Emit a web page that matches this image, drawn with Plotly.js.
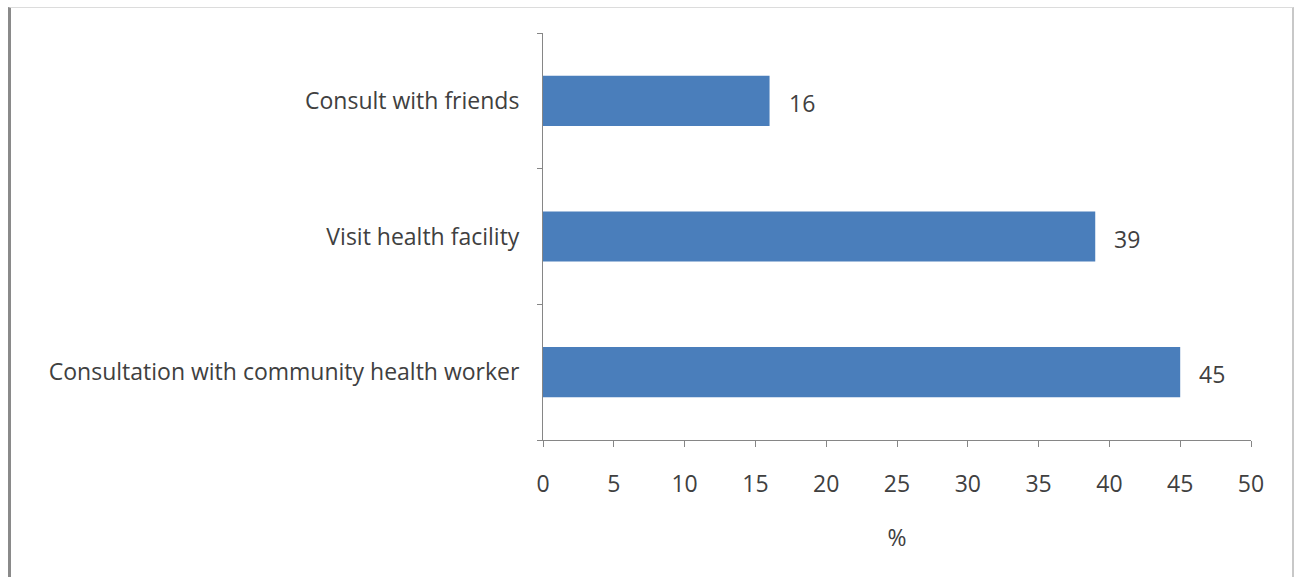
<!DOCTYPE html>
<html>
<head>
<meta charset="utf-8">
<script src="https://cdn.plot.ly/plotly-3.0.1.min.js"></script>
<style>
  html, body { margin: 0; padding: 0; background: #fff; }
  #wrap { position: relative; width: 1294px; height: 577px; }
  #chart { position: absolute; left: 0; top: 0; width: 1294px; height: 577px; }
  #frame { position: absolute; left: 8px; top: 7px; width: 1281px; height: 575px;
           border-left: 3px solid #8a8a8a; border-top: 1px solid #dcdcdc; border-right: 2px solid #c8c8c8;
           pointer-events: none; }
</style>
</head>
<body>
<div id="wrap">
  <div id="chart"></div>
  <div id="frame"></div>
</div>
<script>
const categories = ["Consultation with community health worker", "Visit health facility", "Consult with friends"];
const values = [45, 39, 16];
const xTickValues = [0, 5, 10, 15, 20, 25, 30, 35, 40, 45, 50];

const fontFamily = "'Open Sans', Lato, sans-serif";
const textColor = "#404040";
const fontSize = 23;

const trace = {
  type: "bar",
  orientation: "h",
  x: values,
  y: categories,
  marker: { color: "#4a7ebb", line: { width: 0 } },
  hoverinfo: "none"
};

const valueLabels = values.map((v, i) => ({
  x: v,
  y: categories[i],
  xref: "x",
  yref: "y",
  text: String(v),
  showarrow: false,
  xanchor: "left",
  yanchor: "middle",
  xshift: 17,
  yshift: -2,
  font: { family: fontFamily, size: fontSize, color: textColor }
}));

const layout = {
  width: 1294,
  height: 577,
  margin: { l: 543, r: 43, t: 33, b: 137 },
  paper_bgcolor: "#ffffff",
  plot_bgcolor: "#ffffff",
  showlegend: false,
  bargap: 0.63,
  font: { family: fontFamily, size: fontSize, color: textColor },
  annotations: valueLabels,
  xaxis: {
    range: [0, 50],
    tickvals: xTickValues,
    ticktext: xTickValues.map(String),
    showgrid: false,
    zeroline: false,
    showline: true,
    linecolor: "#868686",
    linewidth: 1,
    ticks: "outside",
    ticklen: 6,
    tickcolor: "#868686",
    tickfont: { family: fontFamily, size: fontSize, color: textColor },
    ticklabelstandoff: 17,
    title: { text: "%", font: { family: fontFamily, size: fontSize, color: textColor }, standoff: 32 },
    fixedrange: true
  },
  yaxis: {
    type: "category",
    categoryorder: "array",
    categoryarray: categories,
    showgrid: false,
    zeroline: false,
    showline: true,
    linecolor: "#868686",
    linewidth: 1,
    ticks: "outside",
    tickson: "boundaries",
    ticklen: 5,
    tickcolor: "#868686",
    tickfont: { family: fontFamily, size: fontSize, color: textColor },
    ticklabelstandoff: 18,
    fixedrange: true
  }
};

Plotly.newPlot("chart", [trace], layout, { displayModeBar: false, staticPlot: true });
</script>
</body>
</html>
